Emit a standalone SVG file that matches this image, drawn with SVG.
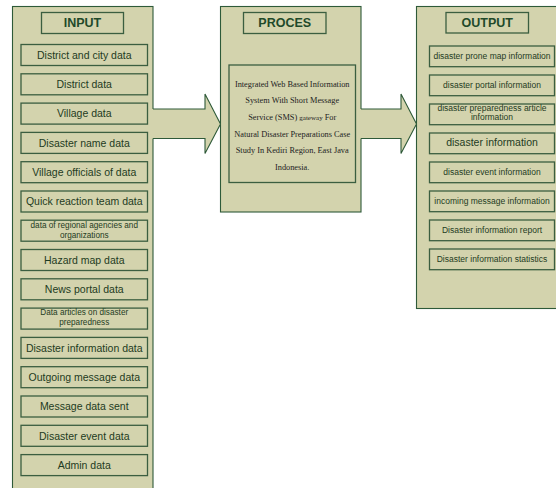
<svg xmlns="http://www.w3.org/2000/svg" width="556" height="488" viewBox="0 0 556 488">
<style>
.panel{fill:#d3d3ad;stroke:#2e5a39;stroke-width:1.1}
.box{fill:#d3d3ad;stroke:#3b5e40;stroke-width:1.3}
.title{font-family:"Liberation Sans",Arial,sans-serif;font-weight:bold;font-size:12.5px;fill:#1f4a2a;text-anchor:middle}
.lbl{font-family:"Liberation Sans",Arial,sans-serif;font-size:10.5px;fill:#1e3b22;text-anchor:middle}
.sm{font-family:"Liberation Sans",Arial,sans-serif;font-size:8.2px;fill:#1e3b22;text-anchor:middle}
.os{font-family:"Liberation Sans",Arial,sans-serif;font-size:8.5px;fill:#1e3b22;text-anchor:middle}
.proc{font-family:"Liberation Serif","Times New Roman",serif;font-size:8.3px;fill:#222;text-anchor:middle}
.arrowfill{fill:#d3d3ad;stroke:none}
.arrowline{fill:none;stroke:#2e5a39;stroke-width:1.1}
</style>
<rect width="556" height="488" fill="#ffffff"/>
<g id="input">
<rect class="panel" x="12.5" y="6.5" width="140.5" height="495"/>
<g id="input-title"><rect class="box" x="41.5" y="12.5" width="82" height="21"/><text class="title" x="82.5" y="27.3">INPUT</text></g>
<g id="in1"><rect class="box" x="21" y="44.5" width="126.5" height="21"/><text class="lbl" x="84.25" y="58.7">District and city data</text></g>
<g id="in2"><rect class="box" x="21" y="73.8" width="126.5" height="21"/><text class="lbl" x="84.25" y="88">District data</text></g>
<g id="in3"><rect class="box" x="21" y="103.1" width="126.5" height="21"/><text class="lbl" x="84.25" y="117.3">Village data</text></g>
<g id="in4"><rect class="box" x="21" y="132.4" width="126.5" height="21"/><text class="lbl" x="84.25" y="146.6">Disaster name data</text></g>
<g id="in5"><rect class="box" x="21" y="161.7" width="126.5" height="21"/><text class="lbl" x="84.25" y="175.9">Village officials of data</text></g>
<g id="in6"><rect class="box" x="21" y="191" width="126.5" height="21"/><text class="lbl" x="84.25" y="205.2">Quick reaction team data</text></g>
<g id="in7"><rect class="box" x="21" y="220.2" width="126.5" height="21"/><text class="sm" x="84.25" y="228">data of regional agencies and</text><text class="sm" x="84.25" y="237.8">organizations</text></g>
<g id="in8"><rect class="box" x="21" y="249.5" width="126.5" height="21"/><text class="lbl" x="84.25" y="263.7">Hazard map data</text></g>
<g id="in9"><rect class="box" x="21" y="278.8" width="126.5" height="21"/><text class="lbl" x="84.25" y="293">News portal data</text></g>
<g id="in10"><rect class="box" x="21" y="308.1" width="126.5" height="21"/><text class="sm" x="84.25" y="315">Data articles on disaster</text><text class="sm" x="84.25" y="325">preparedness</text></g>
<g id="in11"><rect class="box" x="21" y="337.4" width="126.5" height="21"/><text class="lbl" x="84.25" y="351.6">Disaster information data</text></g>
<g id="in12"><rect class="box" x="21" y="366.7" width="126.5" height="21"/><text class="lbl" x="84.25" y="380.9">Outgoing message data</text></g>
<g id="in13"><rect class="box" x="21" y="396" width="126.5" height="21"/><text class="lbl" x="84.25" y="410.2">Message data sent</text></g>
<g id="in14"><rect class="box" x="21" y="425.3" width="126.5" height="21"/><text class="lbl" x="84.25" y="439.5">Disaster event data</text></g>
<g id="in15"><rect class="box" x="21" y="454.6" width="126.5" height="21"/><text class="lbl" x="84.25" y="468.8">Admin data</text></g>
</g>
<g id="proces">
<rect class="panel" x="220.5" y="6.5" width="140.5" height="205.5"/>
<g id="proces-title"><rect class="box" x="243.5" y="12.5" width="82.5" height="21"/><text class="title" x="284.7" y="27.3">PROCES</text></g>
<g id="proces-body"><rect class="box" x="229" y="65" width="126.5" height="117.5"/>
<text class="proc" x="292.2" y="86.5">Integrated Web Based Information</text>
<text class="proc" x="292.2" y="103.2">System With Short Message</text>
<text class="proc" x="292.2" y="119.9">Service (SMS) <tspan font-size="7px">gateway</tspan> For</text>
<text class="proc" x="292.2" y="136.6">Natural Disaster Preparations Case</text>
<text class="proc" x="292.2" y="153.3">Study In Kediri Region, East Java</text>
<text class="proc" x="292.2" y="170">Indonesia.</text>
</g>
</g>
<g id="output">
<rect class="panel" x="416.5" y="6.5" width="150" height="302"/>
<g id="output-title"><rect class="box" x="446" y="12.5" width="82.5" height="20.5"/><text class="title" x="487.2" y="27.3">OUTPUT</text></g>
<g id="out1"><rect class="box" x="429.5" y="46" width="125" height="20.7"/><text class="os" x="492" y="59.3">disaster prone map information</text></g>
<g id="out2"><rect class="box" x="429.5" y="75" width="125" height="20.7"/><text class="os" x="492" y="88.3">disaster portal information</text></g>
<g id="out3"><rect class="box" x="429.5" y="104" width="125" height="20.7"/><text class="os" x="492" y="110.8">disaster preparedness article</text><text class="os" x="492" y="120">information</text></g>
<g id="out4"><rect class="box" x="429.5" y="133" width="125" height="20.7"/><text class="lbl" x="492" y="146.4">disaster information</text></g>
<g id="out5"><rect class="box" x="429.5" y="162" width="125" height="20.7"/><text class="os" x="492" y="175.3">disaster event information</text></g>
<g id="out6"><rect class="box" x="429.5" y="191" width="125" height="20.7"/><text class="os" x="492" y="204.3">incoming message information</text></g>
<g id="out7"><rect class="box" x="429.5" y="220" width="125" height="20.7"/><text class="os" x="492" y="233.3">Disaster information report</text></g>
<g id="out8"><rect class="box" x="429.5" y="249" width="125" height="20.7"/><text class="os" x="492" y="262.3">Disaster information statistics</text></g>
</g>
<g id="connectors">
<g id="arrow-input-proces">
<polygon class="arrowfill" points="152,109 205,109 205,94 220.5,124 205,153.5 205,138.5 152,138.5"/>
<polyline class="arrowline" points="153,109 205,109 205,94 220.5,124 205,153.5 205,138.5 153,138.5"/>
</g>
<g id="arrow-proces-output">
<polygon class="arrowfill" points="360,109 401,109 401,94 416.5,124 401,153.5 401,138.5 360,138.5"/>
<polyline class="arrowline" points="361,109 401,109 401,94 416.5,124 401,153.5 401,138.5 361,138.5"/>
</g>
</g>
</svg>
